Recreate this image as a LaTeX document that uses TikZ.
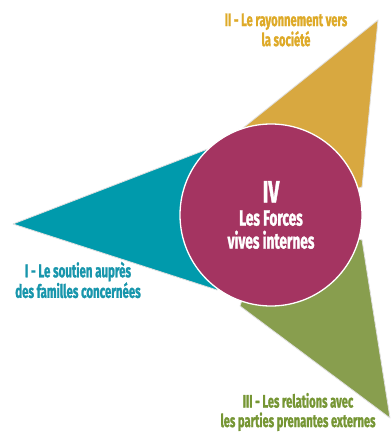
\documentclass[tikz,border=0pt]{standalone}
\usepackage{fontspec}
\setmainfont{Fira Sans}[FakeStretch=0.62, BoldFeatures={FakeBold=1.2}]

\definecolor{tealblue}{RGB}{0,154,172}
\definecolor{goldbar}{RGB}{216,168,64}
\definecolor{olivebar}{RGB}{136,158,78}
\definecolor{plumcore}{RGB}{164,52,97}
\definecolor{tealtext}{RGB}{24,150,172}
\definecolor{goldtext}{RGB}{222,170,40}
\definecolor{olivetext}{RGB}{118,150,52}

\begin{document}
\begin{tikzpicture}[x=1pt, y=-1pt,
  blade/.style={draw=black!12, line width=0.8pt, line join=round},
  caption/.style={align=center, inner sep=0pt}]

\useasboundingbox[fill=white] (0,0) rectangle (390,438);

% the three blades
\fill[blade, fill=goldbar] (378,20) -- (243,128) -- (271,215) -- (362,187) -- cycle;
\fill[blade, fill=tealblue] (13,224) -- (213,147) -- (271,215) -- (217,290) -- cycle;
\fill[blade, fill=olivebar] (390,418) -- (240,306) -- (271,215) -- (362,240) -- cycle;

% centre
\node[circle, fill=plumcore, draw=white, line width=1.3pt, minimum size=182pt,
      inner sep=0pt, text=white, align=center,
      font=\bfseries\fontsize{22}{23}\selectfont] (core) at (271,215)
  {{\fontsize{31}{28}\selectfont IV}\\Les Forces\\vives internes};

% captions
\node[caption, text=goldtext, font=\bfseries\fontsize{18}{15}\selectfont] (rayonnement) at (286,30) {II - Le rayonnement vers\\la société};
\node[caption, text=tealtext, font=\bfseries\fontsize{18.5}{16}\selectfont] (soutien) at (78,280) {I - Le soutien auprès\\des familles concernées};
\node[caption, text=olivetext, font=\bfseries\fontsize{18}{19.5}\selectfont] (relations) at (298,412) {III - Les relations avec\\les parties prenantes externes};

\end{tikzpicture}
\end{document}
